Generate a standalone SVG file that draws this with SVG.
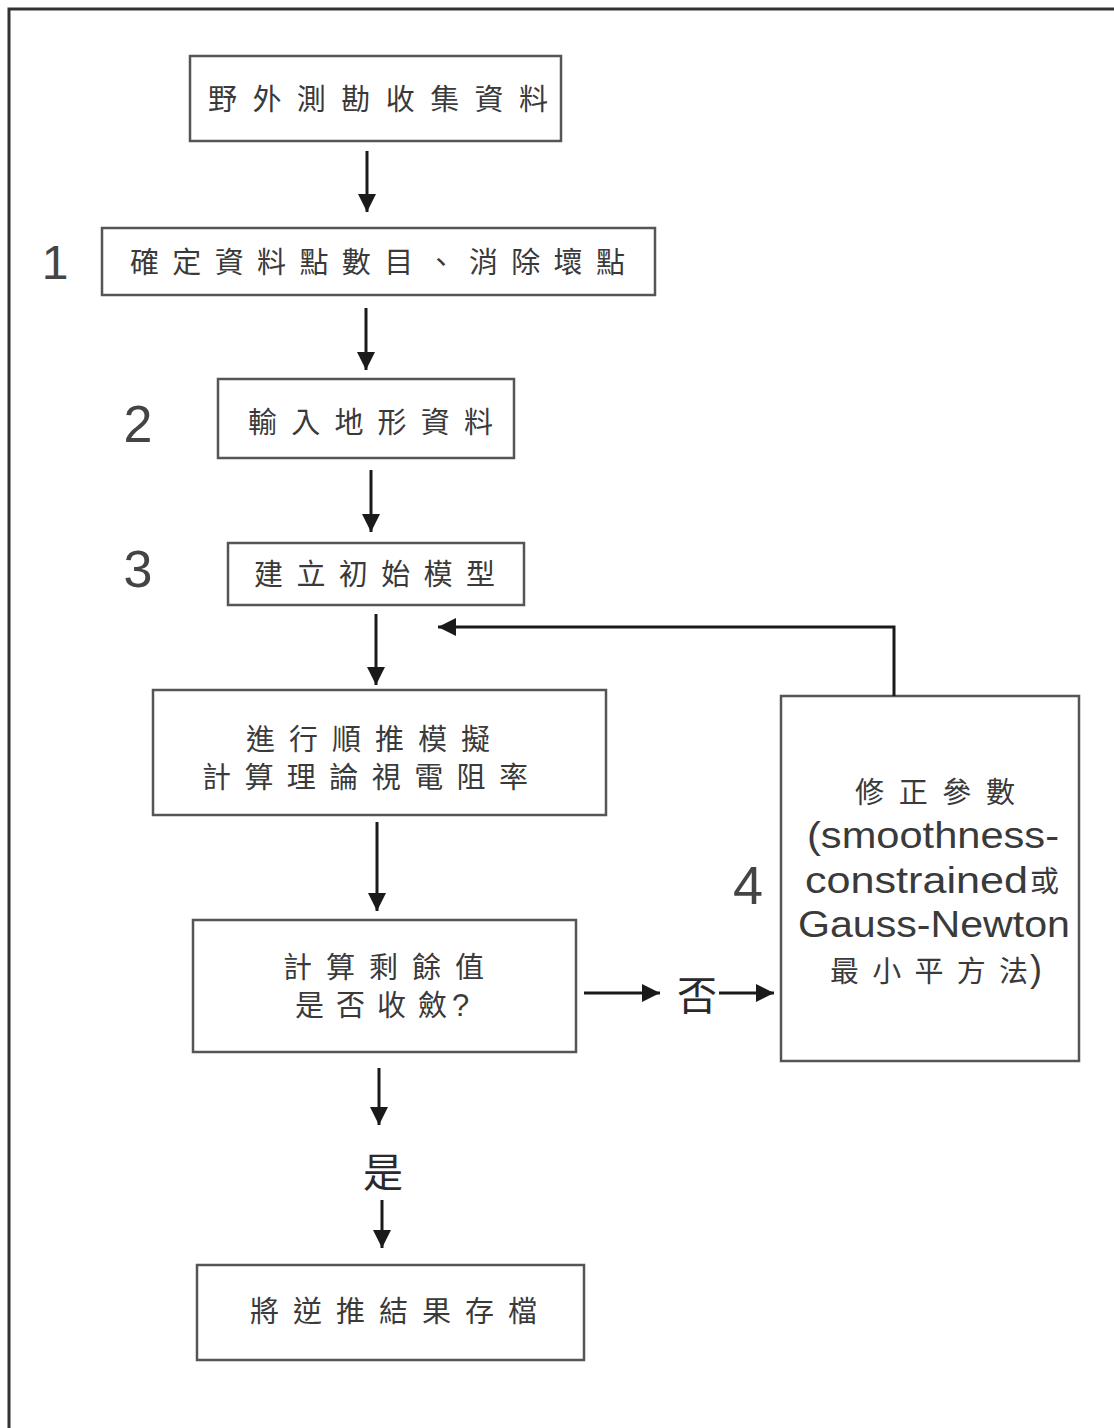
<svg xmlns="http://www.w3.org/2000/svg" width="1114" height="1428" viewBox="0 0 1114 1428">
<defs>
<style>
.box{fill:#fff;stroke:#555;stroke-width:2.5}
.zh{font-family:"Noto Sans CJK TC","Noto Sans CJK JP",sans-serif;font-size:29px;fill:#3a3a3a;text-anchor:start}
.en{font-family:"Liberation Sans","DejaVu Sans",sans-serif;font-size:36px;fill:#3a3a3a}
.q{font-family:"Liberation Sans","DejaVu Sans",sans-serif;font-size:31px;fill:#3a3a3a}
.num{font-family:"Liberation Sans","DejaVu Sans",sans-serif;fill:#444;text-anchor:middle}
.conn{stroke:#1a1a1a;stroke-width:3;fill:none}
.lbl{font-family:"Noto Sans CJK TC","Noto Sans CJK JP",sans-serif;font-size:40px;fill:#2a2a2a;text-anchor:middle}
</style>
<marker id="ah" viewBox="0 0 10 10" refX="10" refY="5" markerWidth="6" markerHeight="6" markerUnits="strokeWidth" orient="auto">
<path d="M0,0 L10,5 L0,10 z" fill="#1a1a1a"/>
</marker>
</defs>
<rect width="1114" height="1428" fill="#fff"/>
<path d="M9,1428 V9 H1114" fill="none" stroke="#333" stroke-width="3"/>

<g id="n1"><rect class="box" x="190" y="56" width="371" height="85"/><text class="zh" x="208" y="110" textLength="340" lengthAdjust="spacing">野外測勘收集資料</text></g>
<g id="n2"><rect class="box" x="102" y="228" width="553" height="67"/><text class="zh" x="130" y="273" textLength="495" lengthAdjust="spacing">確定資料點數目、消除壞點</text></g>
<g id="n3"><rect class="box" x="218" y="379" width="296" height="79"/><text class="zh" x="248" y="433" textLength="245" lengthAdjust="spacing">輸入地形資料</text></g>
<g id="n4"><rect class="box" x="228" y="543" width="296" height="62"/><text class="zh" x="254" y="585" textLength="241" lengthAdjust="spacing">建立初始模型</text></g>
<g id="n5"><rect class="box" x="153" y="690" width="453" height="125"/><text class="zh" x="246" y="750" textLength="244" lengthAdjust="spacing">進行順推模擬</text><text class="zh" x="202" y="788" textLength="326" lengthAdjust="spacing">計算理論視電阻率</text></g>
<g id="n6"><rect class="box" x="193" y="920" width="383" height="132"/><text class="zh" x="283" y="978" textLength="201" lengthAdjust="spacing">計算剩餘值</text><text class="zh" x="295" y="1016" textLength="152" lengthAdjust="spacing">是否收斂</text><text class="q" x="452" y="1016">?</text></g>
<g id="n7"><rect class="box" x="781" y="696" width="298" height="365"/>
<text class="zh" x="855" y="803" textLength="160" lengthAdjust="spacing">修正參數</text>
<text class="en" x="807" y="848" textLength="252" lengthAdjust="spacingAndGlyphs">(smoothness-</text>
<text class="en" x="805" y="893" textLength="223" lengthAdjust="spacingAndGlyphs">constrained</text><text class="zh" x="1030" y="892">或</text>
<text class="en" x="798" y="937" textLength="272" lengthAdjust="spacingAndGlyphs">Gauss-Newton</text>
<text class="zh" x="830" y="982" textLength="198" lengthAdjust="spacing">最小平方法</text><text class="en" x="1030" y="981">)</text>
</g>
<g id="n8"><rect class="box" x="197" y="1265" width="387" height="95"/><text class="zh" x="250" y="1322" textLength="287" lengthAdjust="spacing">將逆推結果存檔</text></g>

<g id="labels">
<text class="num" x="55" y="279" font-size="48">1</text>
<text class="num" x="138" y="442" font-size="52">2</text>
<text class="num" x="138" y="587" font-size="52">3</text>
<text class="num" x="748" y="904" font-size="54">4</text>
<text class="lbl" x="697" y="1010">否</text>
<text class="lbl" x="383" y="1187">是</text>
</g>

<g id="connectors">
<line class="conn" x1="367" y1="151" x2="367" y2="212" marker-end="url(#ah)"/>
<line class="conn" x1="366" y1="308" x2="366" y2="370" marker-end="url(#ah)"/>
<line class="conn" x1="371" y1="470" x2="371" y2="532" marker-end="url(#ah)"/>
<line class="conn" x1="376" y1="614" x2="376" y2="685" marker-end="url(#ah)"/>
<polyline class="conn" points="894,696 894,627 438,627" marker-end="url(#ah)"/>
<line class="conn" x1="377" y1="822" x2="377" y2="911" marker-end="url(#ah)"/>
<line class="conn" x1="584" y1="993" x2="660" y2="993" marker-end="url(#ah)"/>
<line class="conn" x1="719" y1="993" x2="774" y2="993" marker-end="url(#ah)"/>
<line class="conn" x1="379" y1="1068" x2="379" y2="1125" marker-end="url(#ah)"/>
<line class="conn" x1="382" y1="1200" x2="382" y2="1248" marker-end="url(#ah)"/>
</g>
</svg>
